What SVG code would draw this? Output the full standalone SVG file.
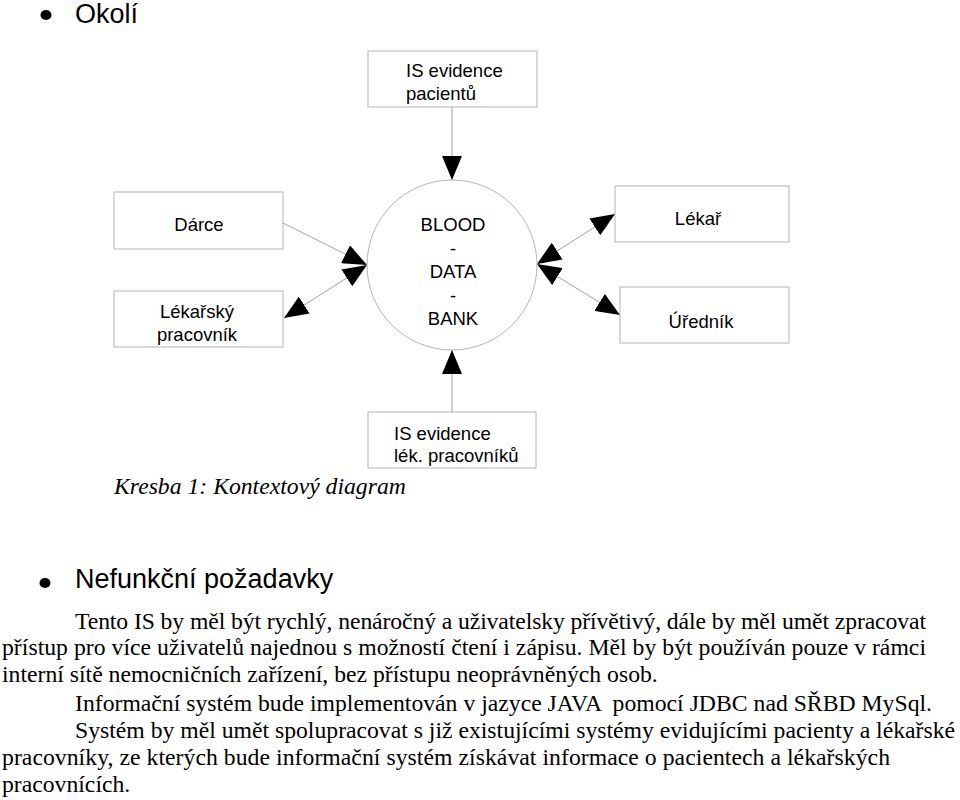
<svg xmlns="http://www.w3.org/2000/svg" width="960" height="800" viewBox="0 0 960 800">
<defs>
<style>
.box{fill:#fff;stroke:#b4b4b4;stroke-width:1}
.lbl{font-family:"Liberation Sans",Arial,sans-serif;font-size:18.5px;fill:#000}
.mid{text-anchor:middle}
.con{stroke:#a0a0a0;stroke-width:1;fill:none}
.h{font-family:"Liberation Sans",Arial,sans-serif;font-size:27px;fill:#000}
.p{font-family:"Liberation Serif","Times New Roman",serif;font-size:23.7px;fill:#000;white-space:pre}
.cap{font-family:"Liberation Serif","Times New Roman",serif;font-size:23.7px;font-style:italic;fill:#000}
</style>
<marker id="ah" viewBox="0 0 24 20" refX="24" refY="10" markerWidth="24" markerHeight="20" markerUnits="userSpaceOnUse" orient="auto-start-reverse">
<path d="M0,0 L24,10 L0,20 Z" fill="#000"/>
</marker>
</defs>
<rect width="960" height="800" fill="#fff"/>

<g id="heading-okoli">
<ellipse cx="46" cy="15" rx="5.5" ry="5" fill="#000"/>
<text class="h" x="75" y="23">Okolí</text>
</g>

<g id="connectors">
<line class="con" x1="452" y1="107" x2="452" y2="180" marker-end="url(#ah)"/>
<line class="con" x1="452" y1="412" x2="452" y2="350" marker-end="url(#ah)"/>
<line class="con" x1="283" y1="223" x2="367" y2="265" marker-end="url(#ah)"/>
<line class="con" x1="284" y1="318" x2="367" y2="265" marker-start="url(#ah)" marker-end="url(#ah)"/>
<line class="con" x1="615" y1="214" x2="537" y2="264" marker-start="url(#ah)" marker-end="url(#ah)"/>
<line class="con" x1="620" y1="315" x2="537" y2="264" marker-start="url(#ah)" marker-end="url(#ah)"/>
</g>

<g id="node-is-pacientu">
<rect class="box" x="368" y="51" width="169" height="56"/>
<text class="lbl" x="406" y="77">IS evidence</text>
<text class="lbl" x="406" y="100">pacientů</text>
</g>

<g id="node-bloodbank">
<circle cx="452" cy="265" r="85" fill="#fff" stroke="#b4b4b4" stroke-width="1"/>
<text class="lbl mid" x="453" y="231">BLOOD</text>
<text class="lbl mid" x="453" y="254.5">-</text>
<text class="lbl mid" x="453" y="278">DATA</text>
<text class="lbl mid" x="453" y="301.5">-</text>
<text class="lbl mid" x="453" y="325">BANK</text>
</g>

<g id="node-darce">
<rect class="box" x="114" y="192" width="169" height="57"/>
<text class="lbl mid" x="199" y="231">Dárce</text>
</g>

<g id="node-lekarsky-pracovnik">
<rect class="box" x="114" y="291" width="169" height="56"/>
<text class="lbl mid" x="197" y="318">Lékařský</text>
<text class="lbl mid" x="197" y="341">pracovník</text>
</g>

<g id="node-lekar">
<rect class="box" x="615" y="186" width="174" height="56"/>
<text class="lbl mid" x="698" y="225">Lékař</text>
</g>

<g id="node-urednik">
<rect class="box" x="620" y="287" width="169" height="56"/>
<text class="lbl mid" x="701" y="328">Úředník</text>
</g>

<g id="node-is-lek-pracovniku">
<rect class="box" x="368" y="412" width="168" height="56"/>
<text class="lbl" x="394" y="440">IS evidence</text>
<text class="lbl" x="394" y="462">lék. pracovníků</text>
</g>

<text class="cap" x="114" y="494">Kresba 1: Kontextový diagram</text>

<g id="heading-nefunkcni">
<ellipse cx="45" cy="583" rx="5.5" ry="5" fill="#000"/>
<text class="h" x="75" y="588">Nefunkční požadavky</text>
</g>

<g id="paragraph">
<text class="p" x="75" y="628.5" textLength="851" lengthAdjust="spacing">Tento IS by měl být rychlý, nenáročný a uživatelsky přívětivý, dále by měl umět zpracovat</text>
<text class="p" x="2" y="655.3" textLength="924" lengthAdjust="spacing">přístup pro více uživatelů najednou s možností čtení i zápisu. Měl by být používán pouze v rámci</text>
<text class="p" x="2" y="682">interní sítě nemocničních zařízení, bez přístupu neoprávněných osob.</text>
<text class="p" x="75" y="711.3" textLength="857" lengthAdjust="spacing">Informační systém bude implementován v jazyce JAVA  pomocí JDBC nad SŘBD MySql.</text>
<text class="p" x="75" y="738.2" textLength="880" lengthAdjust="spacing">Systém by měl umět spolupracovat s již existujícími systémy evidujícími pacienty a lékařské</text>
<text class="p" x="2" y="765" textLength="888" lengthAdjust="spacing">pracovníky, ze kterých bude informační systém získávat informace o pacientech a lékařských</text>
<text class="p" x="2" y="791.8">pracovnících.</text>
</g>
</svg>
